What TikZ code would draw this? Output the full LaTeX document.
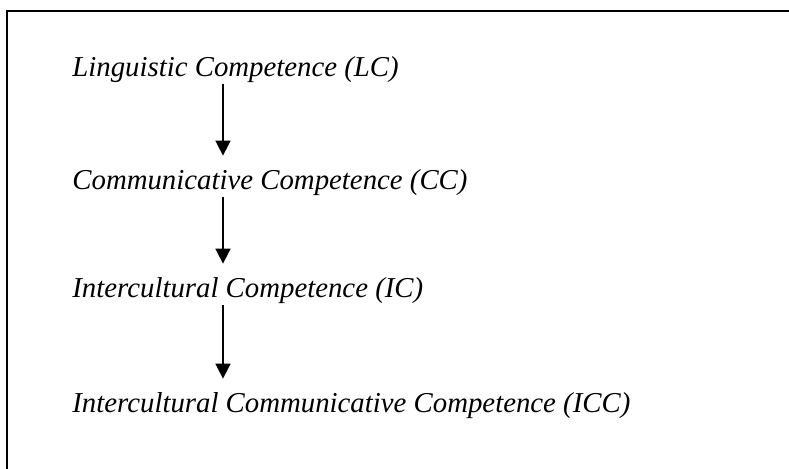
\documentclass[tikz,border=0pt]{standalone}
\usepackage{fontspec}
\setmainfont{Liberation Serif}
\usetikzlibrary{arrows.meta}

\tikzset{
  level/.style={anchor=base west,inner sep=0pt,font=\fontsize{14.4}{17}\selectfont\itshape},
  levelarrow/.style={line width=0.85pt,-{Triangle[width=7.5pt,length=7.5pt]},shorten >=7pt}
}

\begin{document}
\begin{tikzpicture}[x=0.5pt,y=-0.5pt]

\useasboundingbox (0,0) rectangle (789,469);

% frame
\draw[line width=1pt] (789,11) -- (7,11) -- (7,469);

\node[level] (lc) at (72,77) {Linguistic Competence (LC)};
\node[level] (cc) at (72,190) {Communicative Competence (CC)};
\node[level] (ic) at (72,298) {Intercultural Competence (IC)};
\node[level] (icc) at (72,413) {Intercultural Communicative Competence (ICC)};

\coordinate (col) at (223,0);

\draw[levelarrow] (lc.south -| col) -- (cc.north -| col);
\draw[levelarrow] (cc.south -| col) -- (ic.north -| col);
\draw[levelarrow] (ic.south -| col) -- (icc.north -| col);

\end{tikzpicture}
\end{document}
